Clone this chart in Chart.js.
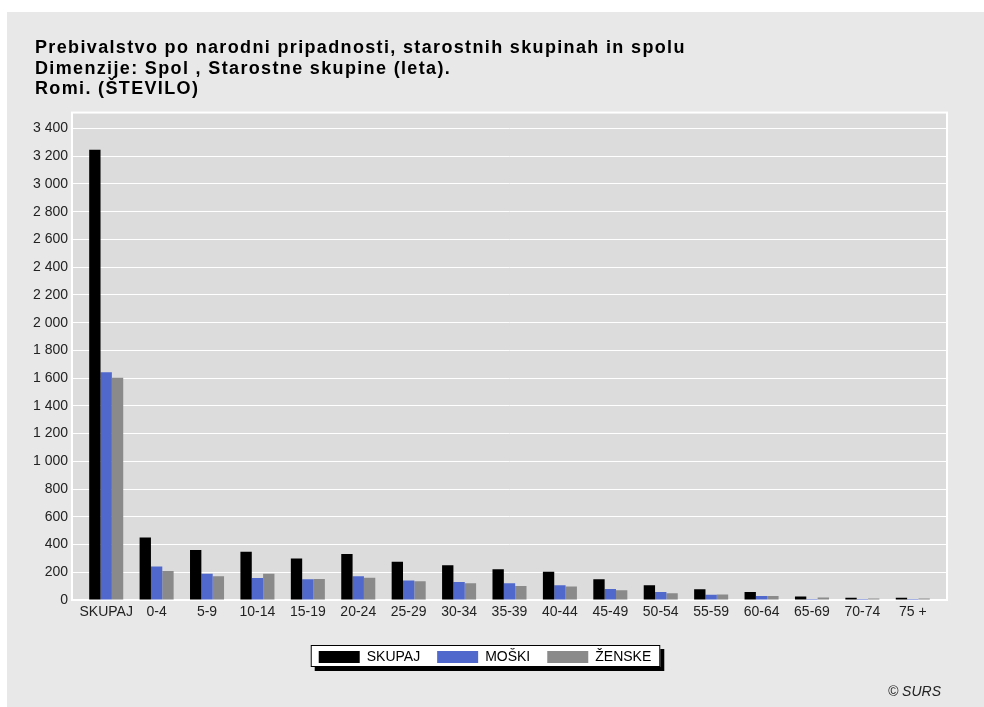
<!DOCTYPE html>
<html>
<head>
<meta charset="utf-8">
<script src="https://cdn.jsdelivr.net/npm/chart.js@4"></script>
<style>
  body { margin: 0; background: #fff; }
  #panel { position: absolute; left: 7px; top: 12px; width: 977px; height: 695px; background: #e8e8e8; }
  #chart { position: absolute; left: 0; top: 0; }
  #src { position: absolute; right: 43px; top: 671px; font: italic 14px "Liberation Sans", Arial, sans-serif; color: #222; }
</style>
</head>
<body>
<div id="panel">
  <canvas id="chart" width="977" height="695"></canvas>
  <div id="src">© SURS</div>
</div>
<script>
const categories = ["SKUPAJ", "0-4", "5-9", "10-14", "15-19", "20-24", "25-29", "30-34", "35-39", "40-44", "45-49", "50-54", "55-59", "60-64", "65-69", "70-74", "75 +"];
const skupaj = [3246, 451, 361, 348, 300, 332, 275, 250, 221, 204, 149, 106, 77, 58, 26, 17, 17];
const moski  = [1643, 241, 190, 158, 149, 171, 140, 130, 120, 106, 79, 58, 38, 29, 8, 7, 7];
const zenske = [1603, 210, 171, 190, 151, 161, 135, 120, 101, 98, 70, 48, 39, 29, 18, 10, 10];
const yStep = 200;
const yTop = 3400;
const yMax = 3515;

const font = "'Liberation Sans', Arial, sans-serif";

// ozadje risalne ploskve, beli okvir in okvir legende s senco
const decor = {
  id: "decor",
  afterLayout(chart) {
    // zamik kategorij od robov ploskve
    const x = chart.scales.x;
    x.left += 9;
    x.right -= 9;
    x.width = x.right - x.left;
    x.configure();
    // legenda ni centrirana na platno
    chart.legend.left -= 2;
    chart.legend.right -= 2;
    // naslov malo bolj desno, z razmikom med črkami
    const tb = chart.titleBlock;
    tb.left += 8;
    tb.right += 8;
    if (!tb._spaced) {
      const orig = tb.draw;
      tb.draw = function () {
        const c = this.ctx;
        c.save();
        c.letterSpacing = "1.35px";
        orig.apply(this, arguments);
        c.restore();
      };
      tb._spaced = true;
    }
  },
  beforeDraw(chart) {
    const { ctx, chartArea: a } = chart;
    ctx.save();
    ctx.fillStyle = "#dcdcdc";
    ctx.fillRect(a.left, a.top, a.right - a.left, a.bottom - a.top);
    const hb = chart.legend.legendHitBoxes;
    if (hb && hb.length) {
      const l = hb[0].left - 8;
      const last = hb[hb.length - 1];
      const r = last.left + last.width + 9;
      const t = hb[0].top - 5;
      const h = 22;
      ctx.fillStyle = "#000";
      ctx.fillRect(l + 4, t + 4, r - l, h);
      ctx.fillStyle = "#fff";
      ctx.fillRect(l, t, r - l, h);
      ctx.strokeStyle = "#000";
      ctx.lineWidth = 1;
      ctx.strokeRect(l + 0.5, t + 0.5, r - l - 1, h - 1);
    }
    ctx.restore();
  },
  beforeDatasetsDraw(chart) {
    const { ctx, chartArea: a } = chart;
    ctx.save();
    ctx.strokeStyle = "#fff";
    ctx.lineWidth = 2;
    ctx.strokeRect(a.left, a.top, a.right - a.left, a.bottom - a.top);
    ctx.restore();
  }
};

new Chart(document.getElementById("chart"), {
  type: "bar",
  data: {
    labels: categories,
    datasets: [
      { label: "SKUPAJ", data: skupaj, backgroundColor: "#000000", borderWidth: 0 },
      { label: "MOŠKI", data: moski, backgroundColor: "#5068cc", borderWidth: 0 },
      { label: "ŽENSKE", data: zenske, backgroundColor: "#8a8a8a", borderWidth: 0 },
    ],
  },
  plugins: [decor],
  options: {
    responsive: false,
    animation: false,
    devicePixelRatio: 1,
    layout: { padding: { left: 20, right: 37, top: 0, bottom: 33 } },
    datasets: { bar: { categoryPercentage: 0.675, barPercentage: 1.0 } },
    plugins: {
      title: {
        display: true,
        align: "start",
        text: [
          "Prebivalstvo po narodni pripadnosti, starostnih skupinah in spolu",
          "Dimenzije: Spol , Starostne skupine (leta).",
          "Romi. (ŠTEVILO)",
        ],
        color: "#000",
        font: { family: font, size: 18, weight: "bold", lineHeight: 1.14 },
        padding: { top: 26, bottom: 13 },
      },
      legend: {
        position: "bottom",
        labels: {
          boxWidth: 41,
          boxHeight: 12,
          padding: 17,
          color: "#000",
          font: { family: font, size: 14 },
        },
      },
      tooltip: { enabled: false },
    },
    scales: {
      x: {
        grid: { display: false, drawTicks: false },
        border: { display: false },
        ticks: { color: "#222", padding: 4, maxRotation: 0, autoSkip: false, font: { family: font, size: 14 } },
        afterFit(s) { s.height = 33; },
      },
      y: {
        min: 0,
        max: yMax,
        grid: { color: "#ffffff", lineWidth: 1, drawTicks: false },
        border: { display: false },
        ticks: {
          padding: 4,
          color: "#222",
          font: { family: font, size: 14 },
          callback: (v) => String(v).replace(/\B(?=(\d{3})+(?!\d))/g, " "),
        },
        afterBuildTicks(s) {
          const t = [];
          for (let v = 0; v <= yTop; v += yStep) t.push({ value: v });
          s.ticks = t;
        },
        afterFit(s) { s.width = 45; },
      },
    },
  },
});
</script>
</body>
</html>
